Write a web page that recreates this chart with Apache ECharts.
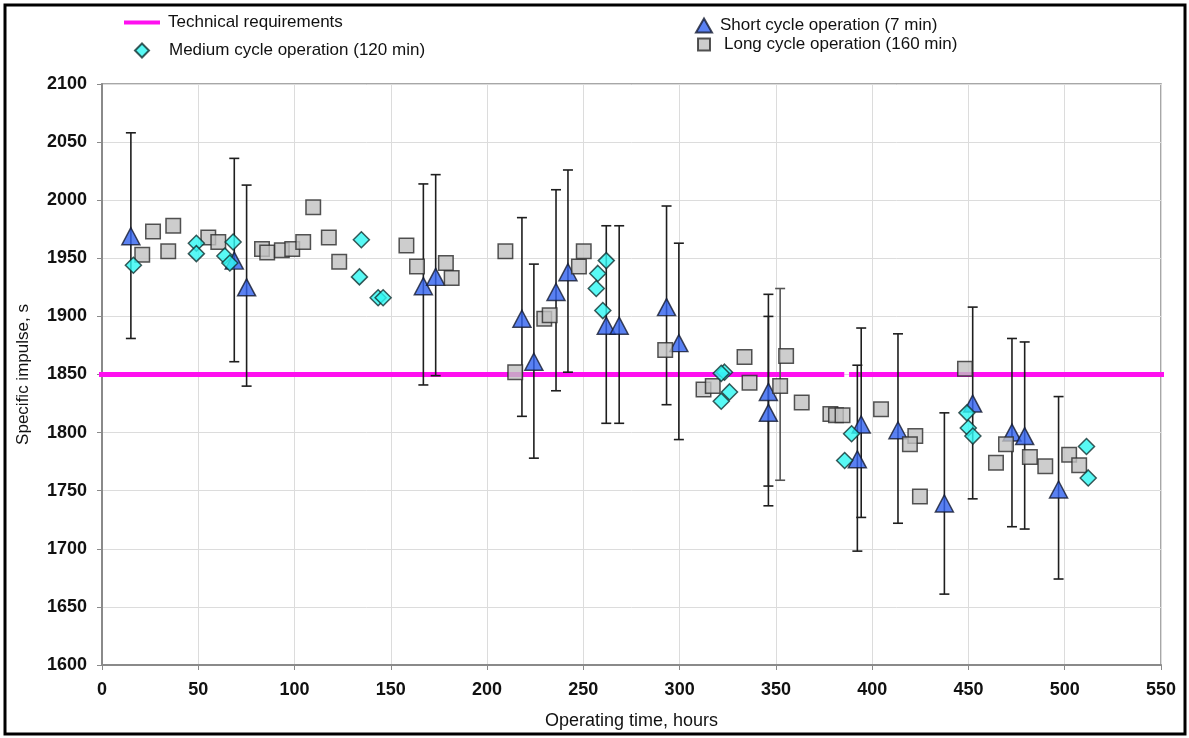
<!DOCTYPE html>
<html>
<head>
<meta charset="utf-8">
<title>Specific impulse vs operating time</title>
<script src="https://cdn.jsdelivr.net/npm/echarts@6/dist/echarts.min.js"></script>
<style>
  html, body { margin: 0; padding: 0; background: #fff; }
  #chart { width: 1189px; height: 738px; }
</style>
</head>
<body>
<div id="chart"></div>
<script>
// Axis ticks
const xTicks = [0, 50, 100, 150, 200, 250, 300, 350, 400, 450, 500, 550];
const yTicks = [1600, 1650, 1700, 1750, 1800, 1850, 1900, 1950, 2000, 2050, 2100];

// Technical requirement level (s) and the two drawn stretches of the line (hours)
const requirementLevel = 1850;
const requirementSpans = [[-4, 385.5], [388, 553.5]];

// Short cycle operation (7 min): time, impulse, error bar low / high
const shortX    = [15.0, 68.7, 75.1, 166.9, 173.3, 218.1, 224.3, 235.8, 242.0, 261.9, 268.6, 293.2, 299.6, 346.1, 346.1, 394.3, 392.3, 413.4, 437.5, 452.2, 472.6, 479.2, 496.8];
const shortY    = [1969, 1948, 1925, 1926, 1934, 1898, 1861, 1921, 1938, 1892, 1892, 1908, 1877, 1835, 1817, 1807, 1777, 1802, 1739, 1825, 1800, 1797, 1751];
const shortLow  = [1881, 1861, 1840, 1841, 1849, 1814, 1778, 1836, 1852, 1808, 1808, 1824, 1794, 1754, 1737, 1727, 1698, 1722, 1661, 1743, 1719, 1717, 1674];
const shortHigh = [2058, 2036, 2013, 2014, 2022, 1985, 1945, 2009, 2026, 1978, 1978, 1995, 1963, 1919, 1900, 1890, 1858, 1885, 1817, 1908, 1881, 1878, 1831];

// Medium cycle operation (120 min)
const mediumX = [16.3, 49.0, 49.0, 68.1, 63.8, 66.4, 134.7, 133.7, 143.4, 146.0, 261.9, 257.5, 256.7, 260.1, 323.3, 321.6, 321.6, 325.9, 389.3, 385.7, 449.2, 449.9, 452.3, 511.3, 512.2];
const mediumY = [1944, 1963, 1954, 1964, 1952, 1946, 1966, 1934, 1916, 1916, 1948, 1937, 1924, 1905, 1852, 1851, 1827, 1835, 1799, 1776, 1817, 1804, 1797, 1788, 1761];

// Long cycle operation (160 min)
const longX = [20.9, 26.5, 37.0, 34.4, 55.2, 60.4, 83.1, 85.8, 93.4, 98.8, 104.5, 109.7, 117.8, 123.2, 158.1, 163.6, 178.6, 181.6, 209.5, 214.6, 229.7, 232.5, 247.7, 250.2, 292.5, 312.4, 317.2, 333.7, 336.3, 355.3, 352.2, 363.4, 378.3, 381.2, 384.6, 404.6, 422.4, 419.6, 424.8, 448.2, 464.3, 469.5, 481.9, 489.9, 502.3, 507.5];
const longY = [1953, 1973, 1978, 1956, 1968, 1964, 1958, 1955, 1957, 1958, 1964, 1994, 1968, 1947, 1961, 1943, 1946, 1933, 1956, 1852, 1898, 1901, 1943, 1956, 1871, 1837, 1840, 1865, 1843, 1866, 1840, 1826, 1816, 1815, 1815, 1820, 1797, 1790, 1745, 1855, 1774, 1790, 1779, 1771, 1781, 1772];
// One long-cycle point carries an error bar
const longErrX    = [352.2];
const longErrLow  = [1759];
const longErrHigh = [1924];

const NAME_REQ = 'Technical requirements';
const NAME_MED = 'Medium cycle operation (120 min)';
const NAME_SHORT = 'Short cycle operation (7 min)';
const NAME_LONG = 'Long cycle operation (160 min)';

const FONT = "'Liberation Sans', Arial, Helvetica, sans-serif";

const zip = (a, b) => a.map((v, i) => [v, b[i]]);
const zip3 = (a, b, c) => a.map((v, i) => [v, b[i], c[i]]);

const requirementData = [];
requirementSpans.forEach((s, i) => {
  if (i > 0) requirementData.push([s[0], '-']);
  requirementData.push([s[0], requirementLevel], [s[1], requirementLevel]);
});

function errorBarRenderer(color) {
  return function (params, api) {
    const x = api.value(0);
    const lo = api.coord([x, api.value(1)]);
    const hi = api.coord([x, api.value(2)]);
    const cap = 5;
    const style = { stroke: color, lineWidth: 1.6 };
    return {
      type: 'group',
      children: [
        { type: 'line', shape: { x1: lo[0], y1: lo[1], x2: hi[0], y2: hi[1] }, style },
        { type: 'line', shape: { x1: lo[0] - cap, y1: lo[1], x2: lo[0] + cap, y2: lo[1] }, style },
        { type: 'line', shape: { x1: hi[0] - cap, y1: hi[1], x2: hi[0] + cap, y2: hi[1] }, style }
      ]
    };
  };
}

const chart = echarts.init(document.getElementById('chart'), null, { renderer: 'canvas' });

function legendFor(name, left, top, w, h, textShift, icon) {
  const item = { name };
  if (icon) item.icon = icon;
  return {
    data: [item],
    left, top,
    itemWidth: w, itemHeight: h,
    orient: 'horizontal',
    padding: 0,
    itemGap: 0,
    selectedMode: false,
    textStyle: { fontFamily: FONT, fontSize: 17, color: '#111', padding: [0, 0, 0, textShift] }
  };
}

const plainLabel = v => String(v);

chart.setOption({
  animation: false,
  backgroundColor: '#fff',
  graphic: [{
    type: 'rect',
    shape: { x: 5, y: 5, width: 1180, height: 729 },
    style: { fill: 'none', stroke: '#000', lineWidth: 3 },
    silent: true
  }],
  legend: [
    legendFor(NAME_REQ, 124, 14, 36, 4, 3, 'rect'),
    legendFor(NAME_MED, 134, 42, 14, 14, 15),
    legendFor(NAME_SHORT, 695, 17, 16, 14, 3),
    legendFor(NAME_LONG, 697, 36, 12, 12, 9)
  ],
  grid: {
    left: 102, right: 28, top: 84, bottom: 73,
    show: true, borderColor: '#8a8a8a', borderWidth: 1.5, backgroundColor: 'transparent'
  },
  xAxis: {
    type: 'value',
    min: xTicks[0], max: xTicks[xTicks.length - 1], interval: 50,
    name: 'Operating time, hours',
    nameLocation: 'middle', nameGap: 47,
    nameTextStyle: { fontFamily: FONT, fontSize: 18, color: '#111' },
    axisLine: { show: true, lineStyle: { color: '#8a8a8a', width: 2 } },
    axisTick: { show: true, length: 5, lineStyle: { color: '#8a8a8a' } },
    axisLabel: { fontFamily: FONT, fontSize: 18, fontWeight: 'bold', color: '#111', margin: 16, formatter: plainLabel },
    splitLine: { show: true, lineStyle: { color: '#dcdcdc', width: 1 } }
  },
  yAxis: {
    type: 'value',
    min: yTicks[0], max: yTicks[yTicks.length - 1], interval: 50,
    name: 'Specific impulse, s',
    nameLocation: 'middle', nameGap: 70,
    nameTextStyle: { fontFamily: FONT, fontSize: 17, color: '#111' },
    axisLine: { show: true, lineStyle: { color: '#8a8a8a', width: 2 } },
    axisTick: { show: true, length: 5, lineStyle: { color: '#8a8a8a' } },
    axisLabel: { fontFamily: FONT, fontSize: 18, fontWeight: 'bold', color: '#111', margin: 15, formatter: plainLabel },
    splitLine: { show: true, lineStyle: { color: '#dcdcdc', width: 1 } }
  },
  series: [
    {
      name: NAME_REQ,
      type: 'line',
      data: requirementData,
      symbol: 'none',
      connectNulls: false,
      clip: false,
      lineStyle: { color: '#ff10f0', width: 5 },
      itemStyle: { color: '#ff10f0' },
      z: 1
    },
    {
      name: 'short-errors',
      type: 'custom',
      data: zip3(shortX, shortLow, shortHigh),
      encode: { x: 0, y: [1, 2] },
      renderItem: errorBarRenderer('#1e1e1e'),
      silent: true,
      z: 2
    },
    {
      name: 'long-errors',
      type: 'custom',
      data: zip3(longErrX, longErrLow, longErrHigh),
      encode: { x: 0, y: [1, 2] },
      renderItem: errorBarRenderer('#555555'),
      silent: true,
      z: 2
    },
    {
      name: NAME_SHORT,
      type: 'scatter',
      data: zip(shortX, shortY),
      symbol: 'triangle',
      symbolSize: [18, 17],
      itemStyle: { color: '#3162ef', borderColor: '#141a30', borderWidth: 1.5 },
      z: 3
    },
    {
      name: NAME_LONG,
      type: 'scatter',
      data: zip(longX, longY),
      symbol: 'rect',
      symbolSize: 14.5,
      itemStyle: { color: '#c0c0c0', borderColor: '#2a2a2a', borderWidth: 1.5 },
      z: 4
    },
    {
      name: NAME_MED,
      type: 'scatter',
      data: zip(mediumX, mediumY),
      symbol: 'diamond',
      symbolSize: 16,
      itemStyle: { color: '#2ef7f2', borderColor: '#12302f', borderWidth: 1.5 },
      z: 5
    }
  ]
});
</script>
</body>
</html>
